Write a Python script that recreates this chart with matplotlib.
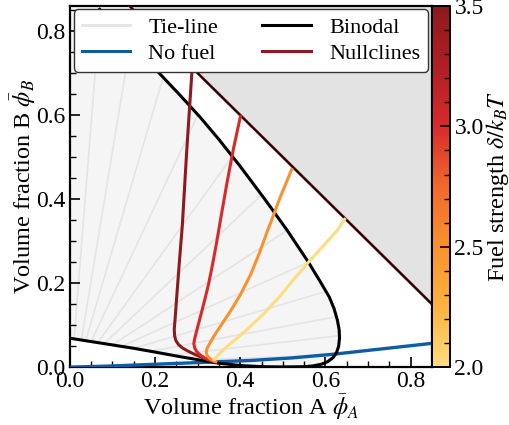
import numpy as np
import matplotlib
matplotlib.use("Agg")
import matplotlib.pyplot as plt
from matplotlib.colors import LinearSegmentedColormap, Normalize
from matplotlib.cm import ScalarMappable
from matplotlib.ticker import MultipleLocator
from matplotlib.lines import Line2D

plt.rcParams['font.family'] = ['Liberation Serif', 'DejaVu Serif']
plt.rcParams['mathtext.fontset'] = 'stix'
plt.rcParams['font.size'] = 13

# ---------------- data ----------------
binodal_x = [0.000, 0.05, 0.10, 0.15, 0.20, 0.259, 0.306, 0.346, 0.40, 0.45, 0.50,
             0.55, 0.57, 0.59, 0.605, 0.618, 0.626, 0.631, 0.633, 0.632, 0.628, 0.620,
             0.609, 0.587, 0.56, 0.51, 0.459, 0.40, 0.35, 0.306, 0.26, 0.219, 0.15, 0.07]
binodal_y = [0.069, 0.061, 0.053, 0.045, 0.036, 0.025, 0.017, 0.010, 0.004, 0.0012, 0.0006,
             0.0012, 0.003, 0.007, 0.013, 0.023, 0.035, 0.050, 0.070, 0.090, 0.112, 0.140,
             0.167, 0.205, 0.250, 0.326, 0.398, 0.478, 0.542, 0.595, 0.646, 0.690, 0.765, 0.852]

tie_left_x = [0.010, 0.027, 0.037, 0.050, 0.065, 0.080, 0.100, 0.120, 0.150, 0.190, 0.240, 0.300]
tie_left_y = [0.068, 0.065, 0.063, 0.061, 0.058, 0.056, 0.053, 0.049, 0.045, 0.038, 0.029, 0.017]
tie_right_x = [0.071, 0.140, 0.219, 0.300, 0.380, 0.450, 0.510, 0.560, 0.600, 0.625, 0.633, 0.620]
tie_right_y = [0.850, 0.760, 0.690, 0.600, 0.500, 0.410, 0.326, 0.250, 0.180, 0.120, 0.075, 0.030]

nofuel_x = [0.0, 0.1, 0.2, 0.3, 0.424, 0.52, 0.62, 0.70, 0.852]
nofuel_y = [0.0, 0.003, 0.007, 0.011, 0.016, 0.022, 0.031, 0.040, 0.057]

fuel_strength = [3.5, 3.0, 2.5, 2.0]
null_x = [
    [0.296, 0.285, 0.274, 0.264, 0.257, 0.251, 0.247, 0.245, 0.246, 0.249, 0.255, 0.264,
     0.276, 0.290, 0.306, 0.322, 0.336, 0.346],
    [0.401, 0.384, 0.369, 0.356, 0.345, 0.335, 0.325, 0.314, 0.305, 0.298, 0.293, 0.291,
     0.293, 0.298, 0.306, 0.318, 0.330, 0.342],
    [0.522, 0.507, 0.492, 0.478, 0.463, 0.445, 0.424, 0.400, 0.376, 0.355, 0.340, 0.329,
     0.322, 0.320, 0.322, 0.328, 0.336, 0.346],
    [0.647, 0.628, 0.594, 0.560, 0.528, 0.494, 0.455, 0.416, 0.385, 0.362, 0.348, 0.340,
     0.337],
]
null_y = [
    [0.850, 0.680, 0.510, 0.338, 0.250, 0.170, 0.115, 0.090, 0.074, 0.063, 0.054, 0.046,
     0.039, 0.032, 0.025, 0.019, 0.015, 0.012],
    [0.600, 0.520, 0.440, 0.365, 0.300, 0.245, 0.195, 0.150, 0.115, 0.088, 0.068, 0.056,
     0.046, 0.037, 0.029, 0.021, 0.016, 0.012],
    [0.474, 0.437, 0.400, 0.362, 0.322, 0.272, 0.220, 0.172, 0.132, 0.100, 0.077, 0.058,
     0.045, 0.036, 0.028, 0.021, 0.016, 0.012],
    [0.355, 0.326, 0.288, 0.250, 0.212, 0.170, 0.127, 0.090, 0.063, 0.043, 0.029, 0.020,
     0.015],
]

cmap = LinearSegmentedColormap.from_list(
    "fuel", ["#fedd80", "#fdb23f", "#f8922f", "#f06a2c", "#d82a2b", "#b01f23", "#8c1a1e"])
norm = Normalize(vmin=2.0, vmax=3.5)

# ---------------- figure ----------------
fig = plt.figure(figsize=(5.1, 4.25), dpi=100)
ax = fig.add_axes([0.137, 0.136, 0.710, 0.850])
cax = fig.add_axes([0.847, 0.136, 0.036, 0.850])

xmax, ymax = 0.85, 0.86
ax.set_xlim(0, xmax)
ax.set_ylim(0, ymax)

# unphysical region
ax.fill([0.0, 1.0, 1.0, 0.0], [1.0, 0.0, 1.0, 1.0], color="#e3e3e3", zorder=0, lw=0)
# inside binodal
ax.fill(list(binodal_x) + [0.06, 0.0], list(binodal_y) + [0.87, 0.87], color="#f5f5f5", zorder=0.5, lw=0)

# tie-lines
for lx, ly, rx, ry in zip(tie_left_x, tie_left_y, tie_right_x, tie_right_y):
    ax.plot([lx, rx], [ly, ry], color="#e4e4e4", lw=1.2, zorder=1)

ax.plot([0.0, 1.0], [1.0, 0.0], color="#8c1a1e", lw=2.0, zorder=3)
ax.plot([0.0, 1.0], [1.0, 0.0], color="black", lw=1.0, zorder=3.1)

ax.plot(nofuel_x, nofuel_y, color="#0d5ca6", lw=2.4, zorder=4)
ax.plot(binodal_x, binodal_y, color="black", lw=2.2, zorder=4, solid_joinstyle='round')

for f, xs, ys in zip(fuel_strength, null_x, null_y):
    ax.plot(xs, ys, color=cmap(norm(f)), lw=2.2, zorder=5, solid_capstyle='butt',
            solid_joinstyle='round')

ax.xaxis.set_major_locator(MultipleLocator(0.2))
ax.yaxis.set_major_locator(MultipleLocator(0.2))
ax.xaxis.set_minor_locator(MultipleLocator(0.05))
ax.yaxis.set_minor_locator(MultipleLocator(0.05))
ax.tick_params(which='both', direction='in', top=False, right=False, labelsize=17)
ax.tick_params(which='major', length=7, width=1.2, pad=3)
ax.tick_params(which='minor', length=4, width=1.0)
for s in ax.spines.values():
    s.set_linewidth(1.6)

ax.set_xlabel(r"Volume fraction A $\bar{\phi}_A$", fontsize=17.5, labelpad=0)
ax.set_ylabel(r"Volume fraction B $\bar{\phi}_B$", fontsize=17.5, labelpad=-1)

handles = [
    Line2D([], [], color="#e6e6e6", lw=2.2, label="Tie-line"),
    Line2D([], [], color="#0d5ca6", lw=2.2, label="No fuel"),
    Line2D([], [], color="black", lw=2.2, label="Binodal"),
    Line2D([], [], color=cmap(norm(3.5)), lw=2.2, label="Nullclines"),
]
leg = ax.legend(handles=handles, ncol=2, loc="upper center", fontsize=16,
                frameon=True, framealpha=1.0, edgecolor="#333333", fancybox=True,
                borderaxespad=0.15, handlelength=2.2, columnspacing=2.0,
                handletextpad=0.8, labelspacing=0.25, borderpad=0.35)
leg.get_frame().set_linewidth(1.0)
leg.set_zorder(10)

sm = ScalarMappable(norm=norm, cmap=cmap)
cb = fig.colorbar(sm, cax=cax)
cb.set_ticks([2.0, 2.5, 3.0, 3.5])
cb.ax.yaxis.set_minor_locator(MultipleLocator(0.1))
cb.ax.tick_params(which='both', direction='in', labelsize=17)
cb.ax.tick_params(which='major', length=7, width=1.2, pad=3)
cb.ax.tick_params(which='minor', length=4, width=1.0)
cb.outline.set_linewidth(1.4)
cb.set_label(r"Fuel strength $\delta/k_BT$", fontsize=17.5, labelpad=0)

fig.savefig("out.png", dpi=100)
